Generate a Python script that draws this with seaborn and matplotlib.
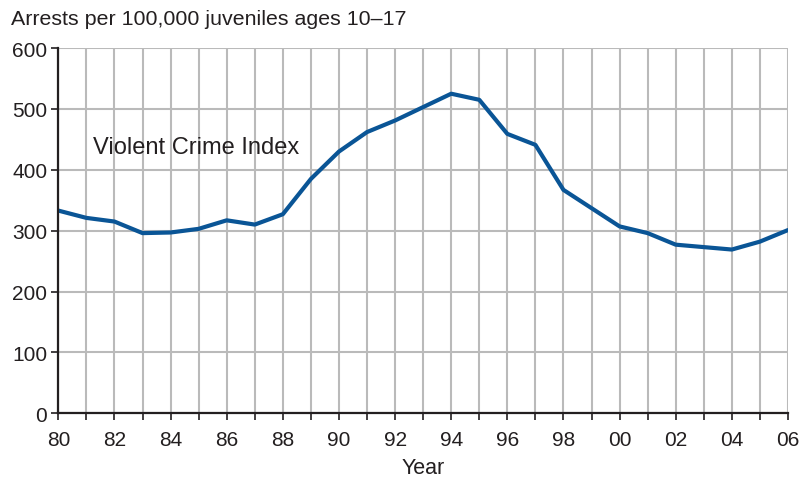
import matplotlib
matplotlib.use("Agg")
import matplotlib.pyplot as plt
import seaborn as sns
import pandas as pd

years = list(range(1980, 2007))
rates = [333, 321, 315, 296, 297, 303, 317, 310, 327, 385, 430, 462, 481, 503,
         525, 515, 459, 441, 367, 337, 307, 296, 277, 273, 269, 282, 301]
xtick_years = list(range(1980, 2007, 2))
xtick_labels = [f"{y % 100:02d}" for y in xtick_years]
yticks = [0, 100, 200, 300, 400, 500, 600]

sns.set_theme(style="white")
plt.rcParams['font.family'] = ['Liberation Sans', 'DejaVu Sans']

df = pd.DataFrame({"year": years, "rate": rates})

fig = plt.figure(figsize=(8.09, 4.81), dpi=100)
ax = fig.add_axes([0.0721, 0.1387, 0.9019, 0.7593])

sns.lineplot(data=df, x="year", y="rate", ax=ax, color="#0a5596", linewidth=3.0, zorder=3)

ax.set_xlim(1980, 2006)
ax.set_ylim(0, 600)
ax.set_xticks(years, minor=True)
ax.set_xticks(xtick_years)
ax.set_xticklabels(xtick_labels)
ax.set_yticks(yticks)

ax.grid(True, which="both", axis="x", color="#bababa", linewidth=1.5, zorder=0)
ax.grid(True, which="major", axis="y", color="#bababa", linewidth=1.5, zorder=0)
ax.set_axisbelow(True)

for s in ["top", "right"]:
    ax.spines[s].set_visible(False)
for s in ["left", "bottom"]:
    ax.spines[s].set_color("#231f20")
    ax.spines[s].set_linewidth(1.6)
    ax.spines[s].set_zorder(4)

ax.tick_params(axis="both", which="both", direction="out", color="#231f20",
               width=1.2, labelsize=15, labelcolor="#231f20")
ax.tick_params(axis="x", which="major", length=5, pad=7)
ax.tick_params(axis="x", which="minor", length=5)
ax.tick_params(axis="y", which="major", length=5, pad=3)
ax.tick_params(bottom=True, left=True, which="both")

ax.set_xlabel("Year", fontsize=15.5, color="#231f20", labelpad=6)
ax.set_ylabel("")

ax.text(1981.25, 437, "Violent Crime Index", fontsize=17, color="#231f20",
        ha="left", va="center", zorder=5)

fig.text(0.014, 0.96, "Arrests per 100,000 juveniles ages 10–17", fontsize=15.4,
         color="#231f20", ha="left", va="center")

fig.savefig("out.png", dpi=100)
